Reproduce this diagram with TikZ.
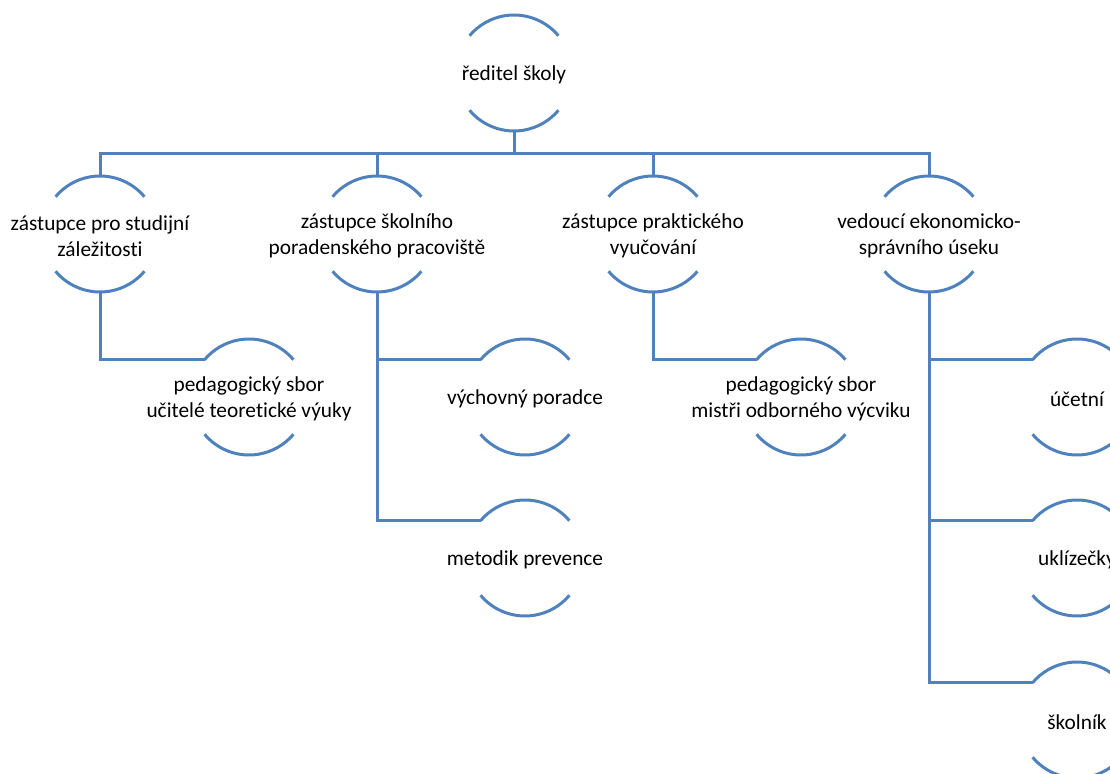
\documentclass[tikz,border=0pt]{standalone}
\usepackage{fontspec}
\setmainfont{Carlito}[Ligatures=NoCommon]
\usepackage{tikz}
\usetikzlibrary{positioning,calc}
\definecolor{orgblue}{RGB}{79,129,189}

\begin{document}
\begin{tikzpicture}[
  x=0.75pt, y=0.75pt,
  member/.style={circle, minimum size=87pt, inner sep=0pt, outer sep=0pt,
    label={[align=center, inner sep=0pt, yshift=-1.5pt, font=\fontsize{16}{19.5}\selectfont]center:#1}},
  rim/.style={draw=orgblue, line width=2.25pt},
  link/.style={draw=orgblue, line width=2.25pt}
]
\useasboundingbox (0,0) rectangle (1110,-774);

% head
\node[member={ředitel školy}] (root) at (514,-73) {};

% deputies
\node[member={zástupce pro studijní\\záležitosti}] (dep1) at (100,-234) {};
\node[member={zástupce školního\\poradenského pracoviště}] (dep2) at (377,-234) {};
\node[member={zástupce praktického\\vyučování}] (dep3) at (653,-234) {};
\node[member={vedoucí ekonomicko-\\správního úseku}] (dep4) at (929,-234) {};

% staff
\node[member={pedagogický sbor\\učitelé teoretické výuky}] (staff1) at ([shift={(149,-163)}]dep1.center) {};
\node[member={výchovný poradce}] (advisor) at ([shift={(148,-163)}]dep2.center) {};
\node[member={metodik prevence}] (prevent) at ([shift={(0,-161)}]advisor.center) {};
\node[member={pedagogický sbor\\mistři odborného výcviku}] (staff3) at ([shift={(148,-163)}]dep3.center) {};
\node[member={účetní}] (account) at ([shift={(148,-163)}]dep4.center) {};
\node[member={uklízečky}] (clean) at ([shift={(0,-161)}]account.center) {};
\node[member={školník}] (janitor) at ([shift={(0,-162)}]clean.center) {};

% arcs round every member
\foreach \n in {root,dep1,dep2,dep3,dep4,staff1,advisor,prevent,staff3,account,clean,janitor}{
  \draw[rim] (\n.40) arc[start angle=40, end angle=140, radius=58];
  \draw[rim] (\n.220) arc[start angle=220, end angle=320, radius=58];
}

% connectors
\coordinate (bus) at ($(root.south)!0.5!(root.south |- dep1.north)$);
\draw[link] (root.south) -- (bus);
\foreach \n in {dep1,dep2,dep3,dep4}
  \draw[link] (bus) -| (\n.north);
\draw[link] (dep1.south) |- (staff1.140);
\draw[link] (dep2.south) |- (advisor.140);
\draw[link] (dep2.south) |- (prevent.140);
\draw[link] (dep3.south) |- (staff3.140);
\draw[link] (dep4.south) |- (account.140);
\draw[link] (dep4.south) |- (clean.140);
\draw[link] (dep4.south) |- (janitor.140);
\end{tikzpicture}
\end{document}
